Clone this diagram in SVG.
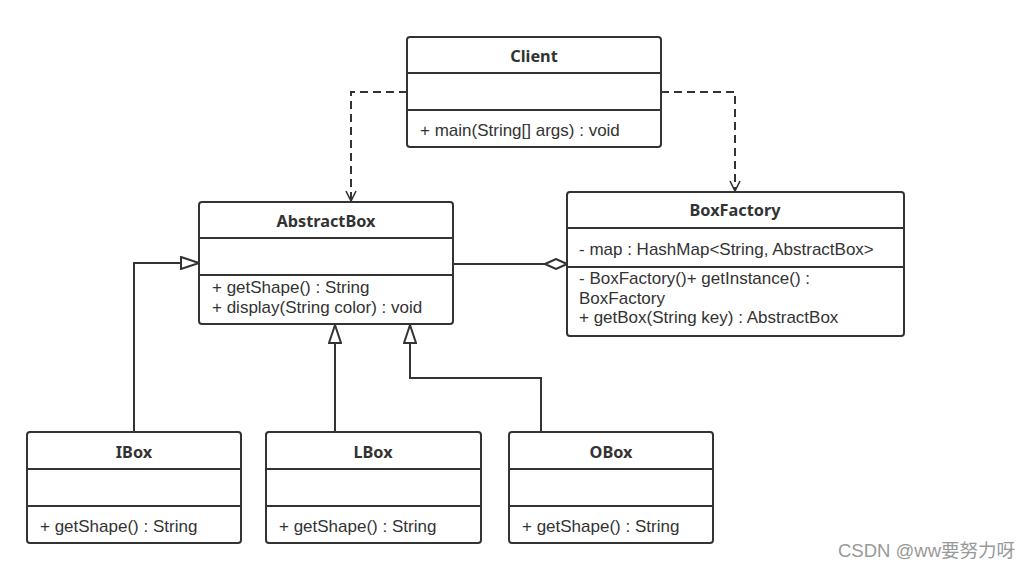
<svg xmlns="http://www.w3.org/2000/svg" width="1031" height="568" viewBox="0 0 1031 568">
<defs>
<style>
.box{fill:#fff;stroke:#333;stroke-width:2}
.div{stroke:#333;stroke-width:2}
.t{font-family:"Noto Sans","Open Sans",sans-serif;font-size:16.3px;fill:#333;font-weight:bold;text-anchor:middle}
.m{font-family:"Liberation Sans",Arial,sans-serif;font-size:17px;fill:#333}
.c{fill:none;stroke:#333;stroke-width:2}
.d{fill:none;stroke:#333;stroke-width:2;stroke-dasharray:8 5}
</style>
<marker id="open" viewBox="0 0 12 12" refX="11" refY="6" markerWidth="12" markerHeight="12" markerUnits="userSpaceOnUse" orient="auto">
<path d="M1,1 L11,6 L1,11" fill="none" stroke="#333" stroke-width="1.6"/>
</marker>
<marker id="tri" viewBox="0 0 20 14" refX="19" refY="7" markerWidth="20" markerHeight="14" markerUnits="userSpaceOnUse" orient="auto">
<path d="M1,1 L19,7 L1,13 Z" fill="#fff" stroke="#333" stroke-width="2"/>
</marker>
<marker id="dia" viewBox="0 0 24 12" refX="23" refY="6" markerWidth="24" markerHeight="12" markerUnits="userSpaceOnUse" orient="auto">
<path d="M1,6 L12,1 L23,6 L12,11 Z" fill="#fff" stroke="#333" stroke-width="2"/>
</marker>
</defs>
<rect width="1031" height="568" fill="#fff"/>
<g id="connectors">
<path class="d" d="M407,92 H351 V201" marker-end="url(#open)"/>
<path class="d" d="M661,92 H735 V191" marker-end="url(#open)"/>
<path class="c" d="M453,264 H567" marker-end="url(#dia)"/>
<path class="c" d="M134,432 V263 H199" marker-end="url(#tri)"/>
<path class="c" d="M335,432 V325" marker-end="url(#tri)"/>
<path class="c" d="M541,432 V378 H410 V325" marker-end="url(#tri)"/>
</g>
<g id="client">
<rect class="box" x="407" y="37" width="254" height="110" rx="3"/>
<line class="div" x1="407" y1="73" x2="661" y2="73"/>
<line class="div" x1="407" y1="110" x2="661" y2="110"/>
<text class="t" x="534" y="62">Client</text>
<text class="m" x="420" y="135.5">+ main(String[] args) : void</text>
</g>
<g id="abstractbox">
<rect class="box" x="199" y="202" width="254" height="122" rx="3"/>
<line class="div" x1="199" y1="238" x2="453" y2="238"/>
<line class="div" x1="199" y1="275" x2="453" y2="275"/>
<text class="t" x="326" y="227">AbstractBox</text>
<text class="m" x="212" y="292.5">+ getShape() : String</text>
<text class="m" x="212" y="312.5">+ display(String color) : void</text>
</g>
<g id="boxfactory">
<rect class="box" x="567" y="192" width="337" height="144" rx="3"/>
<line class="div" x1="567" y1="228" x2="904" y2="228"/>
<line class="div" x1="567" y1="267" x2="904" y2="267"/>
<text class="t" x="735" y="216">BoxFactory</text>
<text class="m" x="579" y="254.5">- map : HashMap&lt;String, AbstractBox&gt;</text>
<text class="m" x="579" y="284">- BoxFactory()+ getInstance() :</text>
<text class="m" x="579" y="303.5">BoxFactory</text>
<text class="m" x="579" y="323">+ getBox(String key) : AbstractBox</text>
</g>
<g id="ibox">
<rect class="box" x="27" y="432" width="214" height="111" rx="3"/>
<line class="div" x1="27" y1="469" x2="241" y2="469"/>
<line class="div" x1="27" y1="506" x2="241" y2="506"/>
<text class="t" x="134" y="458">IBox</text>
<text class="m" x="40" y="531.5">+ getShape() : String</text>
</g>
<g id="lbox">
<rect class="box" x="266" y="432" width="215" height="111" rx="3"/>
<line class="div" x1="266" y1="469" x2="481" y2="469"/>
<line class="div" x1="266" y1="506" x2="481" y2="506"/>
<text class="t" x="373" y="458">LBox</text>
<text class="m" x="279" y="531.5">+ getShape() : String</text>
</g>
<g id="obox">
<rect class="box" x="509" y="432" width="204" height="111" rx="3"/>
<line class="div" x1="509" y1="469" x2="713" y2="469"/>
<line class="div" x1="509" y1="506" x2="713" y2="506"/>
<text class="t" x="611" y="458">OBox</text>
<text class="m" x="522" y="531.5">+ getShape() : String</text>
</g>
<text x="838" y="557" font-family="'Liberation Sans','Noto Sans CJK SC',sans-serif" font-size="18.5" fill="#999">CSDN @ww要努力呀</text>
</svg>
